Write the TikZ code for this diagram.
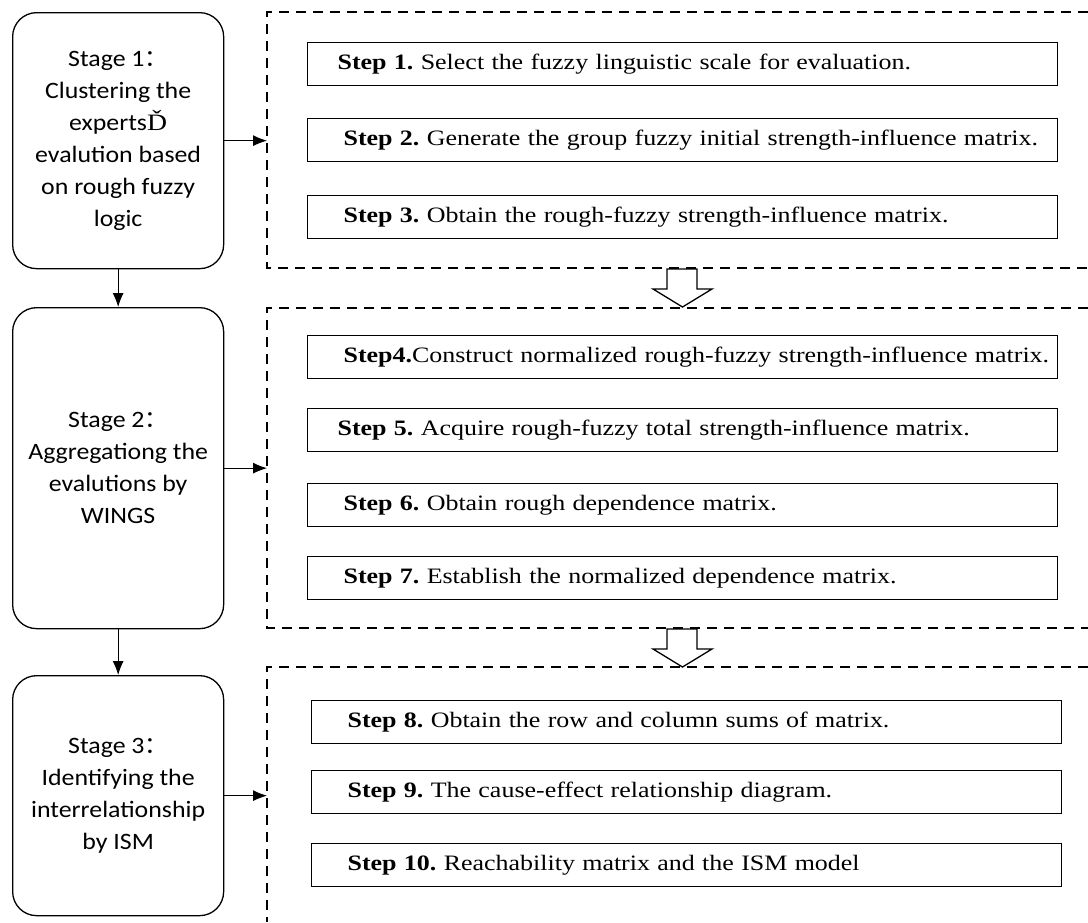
\documentclass[tikz,border=0pt]{standalone}
\usepackage{fontspec}
\usetikzlibrary{arrows.meta}
\newfontfamily\stagefont[FakeStretch=1.1]{Carlito}
\newfontfamily\stepfont[FakeStretch=1.18]{Liberation Serif}
\newfontfamily\cjk{Noto Sans CJK SC}
\newcommand\stp[2][36pt]{\hspace*{#1}\textbf{#2}}
\frenchspacing

\begin{document}
\begin{tikzpicture}[x=1pt,y=-1pt,
    stage/.style={draw,line width=1.3pt,rounded corners=24pt,minimum width=211pt,anchor=north west,align=center,font=\stagefont\fontsize{23.5}{32}\selectfont},
    stepbox/.style={draw,line width=1.2pt,anchor=north west,text width=750pt,inner xsep=0pt,minimum height=43pt,align=left,font=\stepfont\fontsize{22}{26}\selectfont},
    frame/.style={line width=1.3pt,dash pattern=on 10pt off 7pt},
    link/.style={-{Latex[length=14pt,width=11pt]},line width=0.9pt},
    hollow/.style={draw,fill=white,line width=1.3pt,line join=miter}]
  \useasboundingbox (0,0) rectangle (1088,922);

  % dashed frames, open on the right
  \coordinate (f1) at (267,12);
  \coordinate (f2) at (267,308);
  \coordinate (f3) at (267,667);
  \draw[frame] (1088,12) -- (f1) -- (267,268) -- (1088,268);
  \draw[frame] (1088,308) -- (f2) -- (267,628) -- (1088,628);
  \draw[frame] (1088,667) -- (f3) -- (267,922);

  % hollow arrows between frames
  \foreach \y in {269,629}
    \draw[hollow] (667,\y) -- (697,\y) -- (697,\y+20) -- (712,\y+20) -- (682.5,\y+38) -- (653,\y+20) -- (667,\y+20) -- cycle;

  % stages
  \node[stage,minimum height=256pt] (s1) at (12,12) {Stage 1{\cjk ：}\\Clustering the\\experts{\stepfont Ď}\\evalution based\\on rough fuzzy\\logic};
  \node[stage,minimum height=321pt] (s2) at (12,307) {Stage 2{\cjk ：}\\Aggregationg the\\evalutions by\\WINGS};
  \node[stage,minimum height=240pt] (s3) at (12,675) {Stage 3{\cjk ：}\\Identifying the\\interrelationship\\by ISM};

  \draw[link] (s1.east) -- (s1.east -| f1);
  \draw[link] (s2.east) -- (s2.east -| f2);
  \draw[link] (s3.east) -- (s3.east -| f3);
  \draw[link] (s1) -- (s2);
  \draw[link] (s2) -- (s3);

  % steps
  \node[stepbox] (st1) at (307,42) {\stp[30pt]{Step 1.} Select the fuzzy linguistic scale for evaluation.};
  \node[stepbox] (st2) at (307,118) {\stp{Step 2.} Generate the group fuzzy initial strength-influence matrix.};
  \node[stepbox] (st3) at (307,195) {\stp{Step 3.} Obtain the rough-fuzzy strength-influence matrix.};

  \node[stepbox] (st4) at (307,335) {\stp{Step4.}Construct normalized rough-fuzzy strength-influence matrix.};
  \node[stepbox] (st5) at (307,408) {\stp[30pt]{Step 5.} Acquire rough-fuzzy total strength-influence matrix.};
  \node[stepbox] (st6) at (307,483) {\stp{Step 6.} Obtain rough dependence matrix.};
  \node[stepbox] (st7) at (307,556) {\stp{Step 7.} Establish the normalized dependence matrix.};

  \node[stepbox] (st8) at (311,700) {\stp{Step 8.} Obtain the row and column sums of matrix.};
  \node[stepbox] (st9) at (311,770) {\stp{Step 9.} The cause-effect relationship diagram.};
  \node[stepbox] (st10) at (311,843) {\stp{Step 10.} Reachability matrix and the ISM model};
\end{tikzpicture}
\end{document}
